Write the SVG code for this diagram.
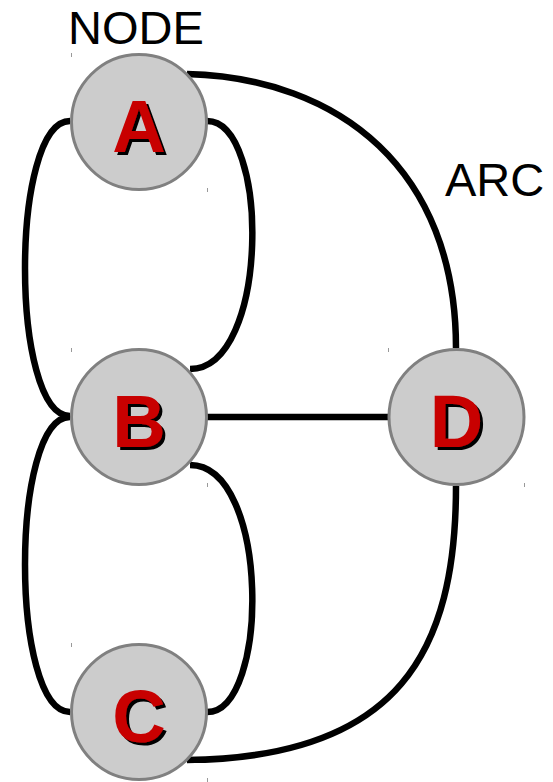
<svg xmlns="http://www.w3.org/2000/svg" width="553" height="782" viewBox="0 0 553 782">
<defs>
<filter id="shadow" x="-20%" y="-20%" width="140%" height="140%">
<feOffset in="SourceAlpha" dx="3" dy="3" result="off"/>
<feFlood flood-color="#000000" result="blk"/>
<feComposite in="blk" in2="off" operator="in" result="sh"/>
<feMerge><feMergeNode in="sh"/><feMergeNode in="SourceGraphic"/></feMerge>
</filter>
</defs>
<style>
.node circle{fill:#cccccc;stroke:#808080;stroke-width:3}
.lbl{font-family:"Liberation Sans",Arial,sans-serif;font-weight:bold;font-size:74px;text-anchor:middle;fill:#c80000;filter:url(#shadow)}
.edge{fill:none;stroke:#000000;stroke-width:6.5}
.cap{font-family:"Liberation Sans",Arial,sans-serif;font-size:47px;fill:#000000}
.tick{stroke:#999999;stroke-width:1}
</style>
<rect width="553" height="782" fill="#ffffff"/>
<g id="connectors">
<path class="edge" d="M187,74 C340,78 456,170 456,348"/>
<path class="edge" d="M187,760 C400,758 456,650 456,486"/>
<path class="edge" d="M70,121 C10,121 10,416 70,416"/>
<path class="edge" d="M207,121 C270,121 270,369 190,369"/>
<path class="edge" d="M70,417 C10,417 10,712 70,712"/>
<path class="edge" d="M190,465 C270,465 270,712 207,712"/>
<path class="edge" d="M207,417 L388,417"/>
</g>
<g id="ticks">
<path class="tick" d="M71.5,53V57M207.5,188V192M71.5,348V352M207.5,483V487M388.5,348V352M524.5,483V487M71.5,643V647M207.5,778V782"/>
</g>
<g id="node-A" class="node">
<circle cx="139" cy="122" r="67.5"/>
<text class="lbl" x="139" y="152">A</text>
</g>
<g id="node-B" class="node">
<circle cx="139" cy="417" r="67.5"/>
<text class="lbl" x="139" y="447">B</text>
</g>
<g id="node-C" class="node">
<circle cx="139" cy="712" r="67.5"/>
<text class="lbl" x="139" y="742">C</text>
</g>
<g id="node-D" class="node">
<circle cx="456.5" cy="417" r="67.5"/>
<text class="lbl" x="456.5" y="447">D</text>
</g>
<text class="cap" x="68" y="44">NODE</text>
<text class="cap" x="445" y="196">ARC</text>
</svg>
